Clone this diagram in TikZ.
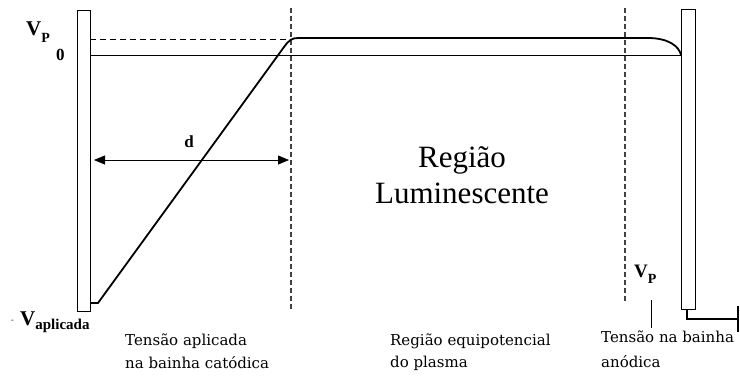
\documentclass[tikz,border=0pt]{standalone}
\usepackage{fontspec}
\setmainfont{Liberation Serif}
\newfontfamily\smallserif{DejaVu Serif}
\usetikzlibrary{arrows.meta}
\begin{document}
\begin{tikzpicture}[x=1pt,y=-1pt,
  electrode/.style={draw=black,line width=0.9pt,fill=white},
  thinline/.style={draw=black,line width=0.8pt},
  curveline/.style={draw=black,line width=1.8pt,line join=round},
  dashv/.style={draw=black!75,line width=1.1pt,dash pattern=on 5pt off 3pt},
  dashh/.style={draw=black,line width=1pt,dash pattern=on 6pt off 4pt},
  lbl/.style={inner sep=0pt,font=\bfseries},
  captxt/.style={inner sep=0pt,anchor=base west,font=\smallserif\fontsize{15}{18}\selectfont},
  bigtxt/.style={inner sep=0pt,anchor=base,font=\fontsize{31}{36}\selectfont}]
\useasboundingbox (0,0) rectangle (740,376);
% electrodes
\node[electrode,minimum width=13pt,minimum height=301pt,inner sep=0pt,anchor=north west] (catodo) at (77,10) {};
\node[electrode,minimum width=14pt,minimum height=300pt,inner sep=0pt,anchor=north west] (anodo) at (681,9) {};
% zero line
\coordinate (z0) at (90,55);
\coordinate (z1) at (681,55);
\draw[thinline] (z0) -- (z1);
% dashed Vp line
\coordinate (vp0) at (90,39);
\coordinate (vp1) at (290,39);
\draw[dashh] (vp0) -- (vp1);
% dashed verticals
\coordinate (dl0) at (291,8);
\coordinate (dl1) at (291,310);
\coordinate (dr0) at (625,8);
\coordinate (dr1) at (625,303);
\draw[dashv] (dl0) -- (dl1);
\draw[dashv] (dr0) -- (dr1);
% potential curve
\coordinate (p0) at (90,303);
\coordinate (p1) at (98,303);
\coordinate (p2) at (284,47);
\coordinate (p3) at (298,38);
\coordinate (p4) at (648,38);
\coordinate (p5) at (681,55);
\draw[curveline] (p0) -- (p1) -- (p2) .. controls (289,40) and (292,38) .. (p3) -- (p4) .. controls (668,38) and (679,46) .. (p5);
% d arrow
\coordinate (da) at (94,160);
\coordinate (db) at (289,160);
\draw[thinline,{Triangle[length=11pt,width=9pt]}-{Triangle[length=11pt,width=9pt]}] (da) -- (db);
\node[lbl,font=\bfseries\fontsize{17}{20}\selectfont] (d) at (189,142) {d};
% labels left
\node[lbl,anchor=base west,font=\bfseries\fontsize{21}{24}\selectfont] (vpl) at (26,35) {V\raisebox{-7pt}{\fontsize{14}{16}\selectfont P}};
\node[lbl,anchor=base west,font=\bfseries\fontsize{17}{20}\selectfont] (zero) at (56,60) {0};
\node[lbl,anchor=base west,font=\fontsize{8}{9}\selectfont] (minus) at (11,322) {-};
\node[lbl,anchor=base west,font=\bfseries\fontsize{21}{24}\selectfont] (vap) at (20,325) {V\raisebox{-4pt}{\fontsize{15}{17}\selectfont aplicada}};
% right Vp
\node[lbl,anchor=base west,font=\bfseries\fontsize{19}{22}\selectfont] (vpr) at (634,277) {V\raisebox{-6pt}{\fontsize{14}{16}\selectfont P}};
\coordinate (t0) at (651,300);
\coordinate (t1) at (651,328);
\draw[thinline] (t0) -- (t1);
% anode lead
\coordinate (l0) at (687,309);
\coordinate (l1) at (687,319);
\coordinate (l2) at (738,319);
\coordinate (l3) at (738,306);
\coordinate (l4) at (738,332);
\draw[draw=black,line width=1.3pt] (l0) -- (l1) -- (l2);
\draw[draw=black,line width=1.3pt] (l3) -- (l4);
% big label
\node[bigtxt] (reg1) at (462,167) {Região};
\node[bigtxt] (reg2) at (462,203) {Luminescente};
% bottom captions
\node[captxt] (c1a) at (125,345) {Tensão aplicada};
\node[captxt] (c1b) at (125,368) {na bainha catódica};
\node[captxt] (c2a) at (390,345) {Região equipotencial};
\node[captxt] (c2b) at (390,367) {do plasma};
\node[captxt] (c3a) at (601,342) {Tensão na bainha};
\node[captxt] (c3b) at (601,367) {anódica};
\end{tikzpicture}
\end{document}
